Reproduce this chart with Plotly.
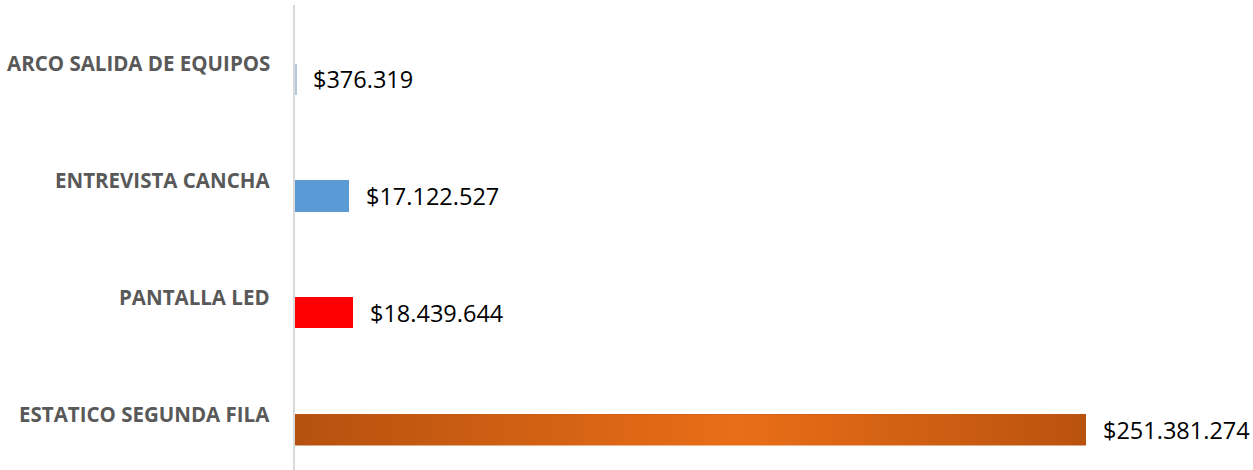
import plotly.graph_objects as go

categories = ["ARCO SALIDA DE EQUIPOS", "ENTREVISTA CANCHA", "PANTALLA LED", "ESTATICO SEGUNDA FILA"]
values = [376319, 17122527, 18439644, 251381274]
bar_colors = ["#B4C8DE", "#5B9BD5", "#FF0000", "#C55A11"]
gradient_scale = [[0.0, "#B5510F"], [0.56, "#EA6E17"], [1.0, "#B9520F"]]

W, H = 1253, 470
ml, mr, mt, mb = 295, 0, 5, 0
plot_w = W - ml - mr
target_px = 791  # pixel length of the largest bar
xmax = max(values) * plot_w / target_px

pos = list(range(len(categories)))
bw = 0.265

fig = go.Figure()
fig.add_trace(go.Bar(
    x=values, y=pos, orientation="h", width=bw,
    marker=dict(color=bar_colors, line=dict(width=0)),
    hoverinfo="skip", showlegend=False,
))

# gradient overlay for the largest bar
i = values.index(max(values))
v = values[i]
fig.add_trace(go.Scatter(
    x=[0, v, v, 0, 0],
    y=[i - bw / 2, i - bw / 2, i + bw / 2, i + bw / 2, i - bw / 2],
    mode="lines", line=dict(width=0), fill="toself",
    fillgradient=dict(type="horizontal", colorscale=gradient_scale),
    hoverinfo="skip", showlegend=False,
))

def fmt(v):
    return "$" + f"{v:,}".replace(",", ".")

for p, (c, v) in enumerate(zip(categories, values)):
    fig.add_annotation(
        x=v, y=p, xref="x", yref="y", text=fmt(v), showarrow=False,
        xanchor="left", yanchor="middle", xshift=15,
        font=dict(family="Open Sans", size=23.5, color="#000000"),
    )
    fig.add_annotation(
        x=-23 / plot_w, y=p, xref="paper", yref="y", text="<b>" + c + "</b>", showarrow=False,
        xanchor="right", yanchor="middle", yshift=16,
        font=dict(family="Open Sans", size=20.5, color="#595959"),
    )

fig.update_layout(
    width=W, height=H,
    margin=dict(l=ml, r=mr, t=mt, b=mb, pad=0),
    plot_bgcolor="white", paper_bgcolor="white",
    xaxis=dict(range=[0, xmax], visible=False, showgrid=False, zeroline=False),
    yaxis=dict(range=[3.342, -0.6325], showticklabels=False, ticks="",
               showgrid=False, zeroline=False, showline=True,
               linecolor="#D9D9D9", linewidth=2),
    bargap=0,
)

fig.write_html("out.html")
